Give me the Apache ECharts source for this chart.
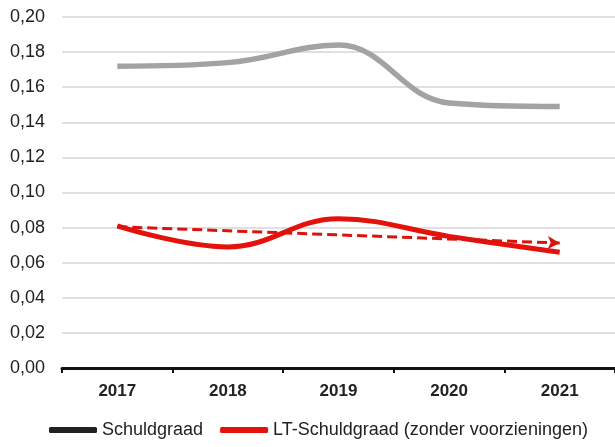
<!DOCTYPE html>
<html>
<head>
<meta charset="utf-8">
<script src="https://cdn.jsdelivr.net/npm/echarts@6/dist/echarts.min.js"></script>
<style>
  html, body { margin: 0; padding: 0; background: #fff; }
  #chart { width: 615px; height: 447px; }
</style>
</head>
<body>
<div id="chart"></div>
<script>
// Debt ratios per year
const years = ['2017', '2018', '2019', '2020', '2021'];
const schuldgraad = [0.172, 0.174, 0.184, 0.151, 0.149];
const ltSchuldgraad = [0.081, 0.069, 0.085, 0.075, 0.066];
// Linear trend of the long-term ratio (start and end)
const trendStart = 0.0805;
const trendEnd = 0.0712;

const chart = echarts.init(document.getElementById('chart'));
const fontFam = 'Liberation Sans, Arial, sans-serif';

chart.setOption({
  animation: false,
  grid: { left: 62, right: -2, top: 17, bottom: 79 },
  legend: {
    bottom: 3,
    left: 44,
    itemWidth: 48,
    itemHeight: 6,
    itemGap: 17,
    icon: 'roundRect',
    textStyle: { fontFamily: fontFam, fontSize: 18, color: '#222' },
    data: [
      { name: 'Schuldgraad', itemStyle: { color: '#222' } },
      { name: 'LT-Schuldgraad (zonder voorzieningen)', itemStyle: { color: '#e3120b' } }
    ]
  },
  xAxis: {
    type: 'category',
    data: years,
    boundaryGap: true,
    axisLine: { lineStyle: { color: '#111', width: 3, cap: 'round' } },
    axisTick: { show: true, length: 5, lineStyle: { color: '#111', width: 2 } },
    axisLabel: { fontFamily: fontFam, fontWeight: 'bold', fontSize: 17, color: '#222', margin: 15 }
  },
  yAxis: {
    type: 'value',
    min: 0,
    max: 0.2,
    interval: 0.02,
    axisLine: { show: false },
    axisTick: { show: false },
    splitLine: { lineStyle: { color: '#d6d6d6', width: 1.5 } },
    axisLabel: {
      fontFamily: fontFam,
      fontSize: 18,
      color: '#222',
      margin: 17,
      formatter: v => v.toFixed(2).replace('.', ',')
    }
  },
  series: [
    {
      name: 'Schuldgraad',
      type: 'line',
      data: schuldgraad,
      smooth: 0.4,
      showSymbol: false,
      symbol: 'none',
      itemStyle: { color: '#222' },
      lineStyle: { color: '#a3a3a3', width: 5.5 },
      z: 3
    },
    {
      name: 'LT-Schuldgraad (zonder voorzieningen)',
      type: 'line',
      data: ltSchuldgraad,
      smooth: 0.4,
      showSymbol: false,
      symbol: 'none',
      itemStyle: { color: '#e3120b' },
      lineStyle: { color: '#e3120b', width: 5 },
      z: 4,
      markLine: {
        silent: true,
        symbol: ['none', 'arrow'],
        symbolSize: [10, 12],
        label: { show: false },
        lineStyle: { color: '#d9140e', type: [10, 5], width: 3 },
        data: [[
          { coord: [years[0], trendStart] },
          { coord: [years[years.length - 1], trendEnd] }
        ]]
      }
    }
  ]
});
</script>
</body>
</html>
